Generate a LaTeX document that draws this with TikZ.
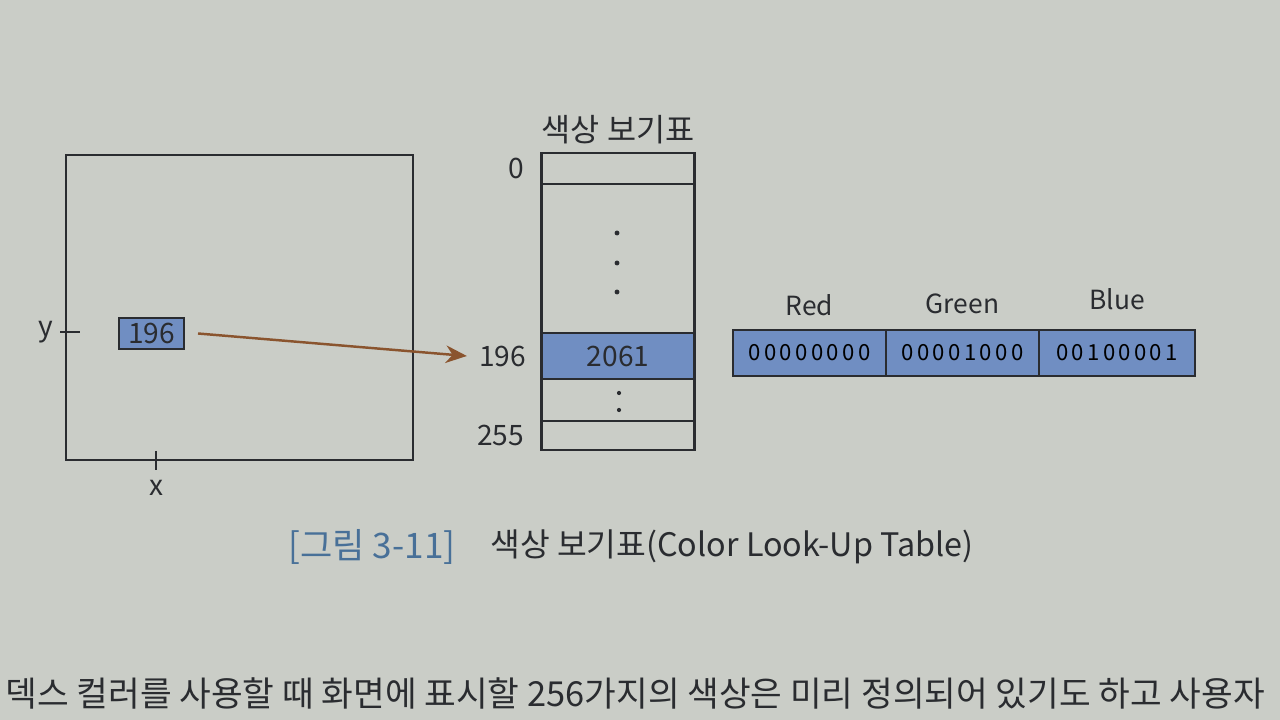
\documentclass[tikz,border=0pt]{standalone}
\usepackage{fontspec}
\setmainfont{Noto Sans CJK KR}
\newfontfamily\bitfont[LetterSpace=15]{Noto Sans CJK KR}
\usetikzlibrary{arrows.meta, positioning}
\definecolor{paper}{RGB}{202,205,199}
\definecolor{cellblue}{RGB}{112,142,194}
\definecolor{capblue}{RGB}{72,112,152}
\definecolor{linkbrown}{RGB}{138,84,46}
\definecolor{ink}{RGB}{42,44,48}

\begin{document}
\begin{tikzpicture}[
        frame/.style={draw=ink, line width=0.7pt, outer sep=0pt, inner sep=0pt},
        tcell/.style={frame, minimum width=1.53cm},
        bluecell/.style={frame, fill=cellblue},
        bitcell/.style={bluecell, minimum width=1.53cm, minimum height=0.46cm, font=\bitfont\fontsize{6.3}{7}\selectfont},
        lbl/.style={text=ink, font=\fontsize{8}{9}\selectfont},
        rgblbl/.style={lbl, font=\fontsize{7.5}{8}\selectfont},
        link/.style={-{Stealth[length=6pt, width=5pt]}, draw=linkbrown, line width=0.7pt}
    ]
    % page background
    \fill[paper] (0,0) rectangle (12.8,-7.2);
    \useasboundingbox (0,0) rectangle (12.8,-7.2);

    % ---- Left: screen with pixel (x, y) ----
    \node[frame, minimum width=3.47cm, minimum height=3.05cm] (screen) at (2.395,-3.075) {};
    \draw[ink, line width=0.7pt] (0.60,-3.32) -- (0.80,-3.32);
    \draw[ink, line width=0.7pt] (1.56,-4.51) -- (1.56,-4.70);
    \node[lbl] (ylab) at (0.46,-3.32) {y};
    \node[lbl] (xlab) at (1.56,-4.88) {x};
    \node[bluecell, lbl, minimum width=0.65cm, minimum height=0.31cm] (pix) at (1.515,-3.335) {196};

    % ---- Middle: colour look-up table ----
    \node[tcell, minimum height=0.31cm] (r0) at (6.18,-1.685) {};
    \node[tcell, minimum height=1.49cm, below=0pt of r0] (rmid) {};
    \node[tcell, bluecell, lbl, minimum height=0.46cm, below=0pt of rmid] (r196) {2061};
    \node[tcell, minimum height=0.42cm, below=0pt of r196] (rdots) {};
    \node[tcell, minimum height=0.29cm, below=0pt of rdots] (r255) {};
    \node[lbl, font=\fontsize{9}{10}\selectfont, above=-0.03cm of r0] (title) {색상 보기표};
    \node[lbl, left=0.05cm of r0] (i0) {0};
    \node[lbl, left=0.03cm of r196] (i196) {196};
    \node[lbl, left=0.05cm of r255] (i255) {255};
    \foreach \y in {-2.33,-2.63,-2.92} \fill[ink] (6.17,\y) circle (0.7pt);
    \foreach \y in {-3.93,-4.10} \fill[ink] (6.19,\y) circle (0.6pt);

    \draw[link] ([xshift=0.14cm]pix.east) -- (i196.west);

    % ---- Right: RGB entry ----
    \node[bitcell] (red) at (8.095,-3.53) {00000000};
    \node[bitcell, right=0pt of red] (green) {00001000};
    \node[bitcell, minimum width=1.56cm, right=0pt of green] (blue) {00100001};
    \node[rgblbl, above=0.02cm of red] (redlab) {Red};
    \node[rgblbl, above=0.04cm of green] (greenlab) {Green};
    \node[rgblbl, above=0.08cm of blue] (bluelab) {Blue};

    % ---- Caption and running text ----
    \node[text=capblue, font=\fontsize{10}{11}\selectfont] (figno) at (3.72,-5.47) {[그림 3-11]};
    \node[text=ink, font=\fontsize{9.2}{11}\selectfont, right=0.1cm of figno] (captxt) {색상 보기표(Color Look-Up Table)};
    \node[text=ink, anchor=west, inner sep=0pt, font=\fontsize{9.8}{11}\selectfont] (para) at (0.05,-6.93)
        {덱스 컬러를 사용할 때 화면에 표시할 256가지의 색상은 미리 정의되어 있기도 하고 사용자};
\end{tikzpicture}
\end{document}
